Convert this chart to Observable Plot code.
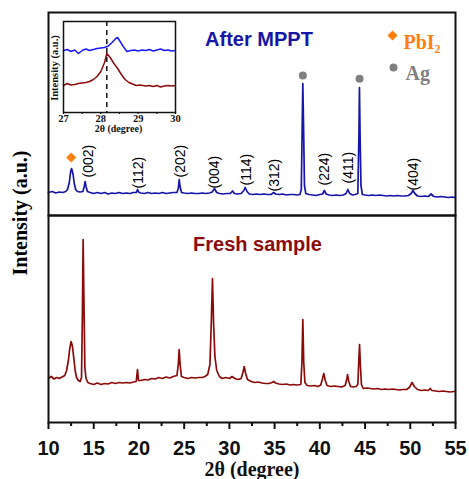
<!DOCTYPE html>
<html><head><meta charset="utf-8">
<script src="https://cdn.jsdelivr.net/npm/d3@7"></script>
<script src="https://cdn.jsdelivr.net/npm/@observablehq/plot@0.6"></script>
<style>
body{margin:0;background:#fff;}
#wrap{position:relative;width:469px;height:479px;overflow:hidden;background:#fff;}
#wrap svg{position:absolute;overflow:visible;}
.ylab{position:absolute;left:20px;top:213px;transform:translate(-50%,-50%) rotate(-90deg);font:bold 20px "Liberation Serif","Times New Roman",serif;white-space:nowrap;color:#000;}
</style></head><body><div id="wrap"><div class="ylab">Intensity (a.u.)</div></div>
<script>
// ---- data (2θ in degrees, intensity in arbitrary units) ----
const xTicks = [10, 15, 20, 25, 30, 35, 40, 45, 50, 55];
const xMinorTicks = [12.5, 17.5, 22.5, 27.5, 32.5, 37.5, 42.5, 47.5, 52.5];
const insetTicks = [27, 28, 29, 30];
const insetMinorTicks = [27.5, 28.5, 29.5];

const mppt = [[10.0,23],[10.4,24],[10.8,22.5],[11.2,23.5],[11.6,23],[11.9,24],[12.1,26],[12.3,33],[12.45,44],[12.55,47],[12.7,42],[12.85,32],[13.0,26],[13.2,24],[13.5,23.5],[13.8,24],[13.95,29],[14.05,34],[14.15,29],[14.3,24],[14.6,23],[15.0,22],[15.4,23],[15.8,22],[16.2,23],[16.6,21.5],[17.0,22.5],[17.4,22],[17.8,23],[18.2,22],[18.6,22.5],[19.0,22],[19.4,23],[19.7,23],[19.85,26],[19.95,23.5],[20.2,22.5],[20.6,22],[21.0,23],[21.4,22],[21.8,22.5],[22.2,22],[22.6,23],[23.0,22],[23.4,22.5],[23.8,23],[24.2,23],[24.35,27],[24.45,36],[24.55,29],[24.7,23],[25.0,22.5],[25.4,22],[25.8,22.5],[26.2,22],[26.6,22],[27.0,22.5],[27.4,22],[27.8,22.5],[28.1,23.5],[28.35,27],[28.6,23],[28.9,22],[29.3,21.5],[29.7,22],[30.1,22],[30.35,24.5],[30.55,22],[30.9,21.5],[31.3,22],[31.6,25],[31.75,28],[31.95,24],[32.2,21.5],[32.6,21],[33.0,21.5],[33.4,21],[33.8,21.5],[34.2,21],[34.6,21],[34.9,23],[35.1,21.5],[35.5,21],[35.9,21.5],[36.3,20.5],[36.7,21],[37.1,21],[37.5,20.5],[37.8,21],[37.95,26],[38.05,90],[38.12,132],[38.2,90],[38.3,30],[38.45,22],[38.8,21],[39.2,20.5],[39.6,20],[40.0,21],[40.3,21.5],[40.5,25],[40.7,21.5],[41.0,20.5],[41.4,20],[41.8,20.5],[42.2,20],[42.6,20.5],[42.9,22],[43.1,26],[43.3,22],[43.6,20.5],[43.9,21],[44.2,22],[44.32,80],[44.38,128],[44.45,80],[44.55,30],[44.7,21],[45.0,20.5],[45.4,20],[45.8,20.5],[46.2,20],[46.6,20.5],[47.0,20],[47.4,19.5],[47.8,20],[48.2,19.5],[48.6,20],[49.0,19.5],[49.4,19.5],[49.8,20],[50.1,22],[50.3,25],[50.5,22],[50.8,19.5],[51.2,19],[51.6,19.5],[52.0,19],[52.3,21.5],[52.6,19],[53.0,18.5],[53.4,19],[53.8,18.5],[54.2,18],[54.6,18.5],[55.0,18]];

const fresh = [[10.0,44],[10.3,46],[10.6,43.5],[10.9,45],[11.2,44],[11.5,45.5],[11.8,47],[12.0,52],[12.2,62],[12.35,74],[12.5,81],[12.65,76],[12.8,64],[12.95,52],[13.1,45],[13.3,42],[13.5,41],[13.65,45],[13.75,110],[13.83,183],[13.92,120],[14.02,55],[14.15,44],[14.35,40],[14.6,39],[15.0,38],[15.4,39.5],[15.8,38],[16.2,39],[16.6,38.5],[17.0,40],[17.4,39],[17.8,40],[18.2,39.5],[18.6,40],[19.0,39.5],[19.4,40.5],[19.7,41],[19.84,53],[19.95,42],[20.2,42],[20.6,43],[21.0,42.5],[21.4,44],[21.8,43.5],[22.2,45],[22.6,44],[23.0,45.5],[23.4,44.5],[23.8,46],[24.2,47],[24.35,58],[24.45,73],[24.55,58],[24.7,46],[25.0,45],[25.4,44],[25.8,45],[26.2,44.5],[26.6,45],[27.0,45],[27.3,46],[27.6,48],[27.85,58],[28.0,100],[28.13,144],[28.25,100],[28.4,66],[28.6,52],[28.9,46],[29.2,44],[29.6,45],[30.0,44],[30.3,46],[30.6,44],[31.0,43],[31.3,44],[31.5,50],[31.64,56],[31.8,49],[32.0,43],[32.4,41],[32.8,40],[33.2,40.5],[33.6,39.5],[34.0,39],[34.4,39],[34.7,40],[34.9,41],[35.1,39.5],[35.5,38.5],[35.9,38],[36.3,38.5],[36.7,37.5],[37.1,38],[37.5,37.5],[37.9,38],[38.02,60],[38.12,103],[38.22,60],[38.35,40],[38.6,37],[39.0,36.5],[39.4,37],[39.8,36],[40.1,37.5],[40.3,44],[40.44,49],[40.6,42],[40.8,37],[41.2,36],[41.6,36.5],[42.0,36],[42.4,35.5],[42.8,37],[43.0,44],[43.06,48],[43.2,41],[43.4,36],[43.7,35.5],[44.0,36],[44.2,38],[44.3,60],[44.39,78],[44.48,58],[44.6,38],[44.8,34],[45.2,34.5],[45.6,34],[46.0,33.5],[46.4,34],[46.8,33],[47.2,33.5],[47.6,33],[48.0,33.5],[48.4,33],[48.8,32.5],[49.2,33],[49.6,33],[49.9,35],[50.2,40],[50.45,36],[50.8,33],[51.2,32],[51.6,32.5],[52.0,32],[52.2,34],[52.4,32],[52.8,31.5],[53.2,31],[53.6,31.5],[54.0,31],[54.4,30.5],[54.8,31],[55.0,31]];

const insetMppt = [[27.0,62],[27.1,63],[27.2,61],[27.3,62.5],[27.4,59],[27.5,62],[27.6,63.5],[27.7,62],[27.8,63],[27.9,64],[28.0,64.5],[28.1,65],[28.2,66.5],[28.3,70],[28.4,74],[28.45,75],[28.5,72],[28.6,66],[28.7,61],[28.8,62],[28.9,62.5],[29.0,61.5],[29.1,62.5],[29.2,62],[29.3,63],[29.4,61.5],[29.5,62.5],[29.6,63.5],[29.7,62],[29.8,62.5],[29.9,61.5],[30.0,62]];
const insetFresh = [[27.0,27],[27.1,29],[27.2,27.5],[27.3,28],[27.4,29],[27.5,29.5],[27.6,30],[27.7,31],[27.8,33],[27.9,36],[28.0,41],[28.1,50],[28.16,59],[28.25,55],[28.35,49],[28.45,44],[28.55,38],[28.65,33],[28.75,30],[28.85,28.5],[28.95,27],[29.05,27.5],[29.2,26.5],[29.3,27],[29.4,26],[29.5,27],[29.6,25.5],[29.7,26.5],[29.8,27],[29.9,26.5],[30.0,27]];
const insetRefLine = [28.16];

const hklLabels = ["(002)", "(112)", "(202)", "(004)", "(114)", "(312)", "(224)", "(411)", "(404)"];
const hklTheta  = [14.39, 19.92, 24.6, 28.36, 31.86, 35.02, 40.52, 43.17, 50.36];
const hklLevel  = [38, 27, 38, 27, 30, 24, 30, 32, 25];

const pbi2Marker = [[12.51, 58]];
const agMarkers = [[38.12, 140], [44.39, 136.7]];

// ---- styles ----
const BLUE = "#1616a8", RED = "#8b0b0b", ORANGE = "#ff7f0e", GREY = "#808080";
const SANS = "'Liberation Sans', Arial, sans-serif";
const SERIF = "'Liberation Serif', 'Times New Roman', serif";
const wrap = document.getElementById("wrap");
const place = (svg, left, topPx) => { svg.style.left = left + "px"; svg.style.top = topPx + "px"; wrap.appendChild(svg); };

const hkl = hklLabels.map((t, i) => ({t, x: hklTheta[i], y: hklLevel[i]}));

// ---- top panel: After MPPT ----
const topPanel = Plot.plot({
  width: 469, height: 216,
  marginLeft: 48, marginRight: 14, marginTop: 12, marginBottom: 1,
  style: {background: "transparent", fontFamily: SANS},
  x: {domain: [10, 55], axis: null},
  y: {domain: [0, 203], axis: null},
  marks: [
    Plot.line(mppt, {x: d => d[0], y: d => d[1], stroke: BLUE, strokeWidth: 1.7}),
    Plot.text(hkl, {x: "x", y: "y", text: "t", rotate: -90, textAnchor: "start", fontSize: 14, fill: "#000", fontFamily: SANS}),
    Plot.dot(pbi2Marker, {x: d => d[0], y: d => d[1], symbol: "diamond2", r: 4.6, fill: ORANGE, stroke: "none"}),
    Plot.dot(agMarkers, {x: d => d[0], y: d => d[1], r: 4, fill: GREY, stroke: "none"}),
    Plot.text(["After MPPT"], {frameAnchor: "top", dx: 7, dy: 19.6, fontSize: 20, fontWeight: "bold", fill: BLUE, fontFamily: SANS}),
    Plot.dot([0], {frameAnchor: "top-right", dx: -63, dy: 23, symbol: "diamond2", r: 4.6, fill: ORANGE, stroke: "none"}),
    Plot.text(["PbI₂"], {frameAnchor: "top-right", dx: -52, dy: 22.3, textAnchor: "start", fontSize: 20, fontWeight: "bold", fill: ORANGE, fontFamily: SERIF}),
    Plot.dot([0], {frameAnchor: "top-right", dx: -62, dy: 55, r: 4, fill: GREY, stroke: "none"}),
    Plot.text(["Ag"], {frameAnchor: "top-right", dx: -50, dy: 53.6, textAnchor: "start", fontSize: 20, fontWeight: "bold", fill: GREY, fontFamily: SERIF}),
    Plot.frame({stroke: "#111", strokeWidth: 2})
  ]
});
place(topPanel, 0, 0);

// ---- bottom panel: Fresh sample ----
const bottomPanel = Plot.plot({
  width: 469, height: 265,
  marginLeft: 48, marginRight: 14, marginTop: 1, marginBottom: 57,
  style: {background: "transparent", fontFamily: SANS},
  x: {domain: [10, 55]},
  y: {domain: [0, 207], axis: null},
  marks: [
    Plot.line(fresh, {x: d => d[0], y: d => d[1], stroke: RED, strokeWidth: 1.7}),
    Plot.text(["Fresh sample"], {frameAnchor: "top", dx: 5.5, dy: 21.6, fontSize: 20, fontWeight: "bold", fill: RED, fontFamily: SANS}),
    Plot.axisX({ticks: xTicks, tickSize: 7, tickPadding: 11, strokeWidth: 2, stroke: "#111", fontSize: 20, fontWeight: "bold", fill: "#111", fontFamily: SANS, label: null}),
    Plot.axisX({ticks: xMinorTicks, tickSize: 4, strokeWidth: 2, stroke: "#111", text: null, label: null}),
    Plot.text(["2θ (degree)"], {frameAnchor: "bottom", dy: 53, fontSize: 20, fontWeight: "bold", fill: "#111", fontFamily: SERIF}),
    Plot.frame({stroke: "#111", strokeWidth: 2})
  ]
});
place(bottomPanel, 0, 214);

// ---- inset: 27–30° zoom ----
const insetPanel = Plot.plot({
  width: 145, height: 120,
  marginLeft: 23, marginRight: 10, marginTop: 6, marginBottom: 23,
  style: {background: "transparent", fontFamily: SERIF},
  x: {domain: [27, 30]},
  y: {domain: [0, 91], axis: null},
  marks: [
    Plot.ruleX(insetRefLine, {stroke: "#111", strokeWidth: 1.5, strokeDasharray: "5,4"}),
    Plot.line(insetMppt, {x: d => d[0], y: d => d[1], stroke: "#1a1aff", strokeWidth: 1.5}),
    Plot.line(insetFresh, {x: d => d[0], y: d => d[1], stroke: RED, strokeWidth: 1.5}),
    Plot.axisX({ticks: insetTicks, tickFormat: d => String(d), tickSize: 2, tickPadding: 0, strokeWidth: 1.2, stroke: "#111", fontSize: 10.5, fontWeight: "bold", fill: "#111", fontFamily: SERIF, label: null}),
    Plot.axisX({ticks: insetMinorTicks, tickSize: 2, strokeWidth: 1.2, stroke: "#111", text: null, label: null}),
    Plot.text(["2θ (degree)"], {frameAnchor: "bottom", dy: 19, dx: -1, fontSize: 10, fontWeight: "bold", fill: "#111", fontFamily: SERIF}),
    Plot.text(["Intensity (a.u.)"], {frameAnchor: "left", dx: -9, dy: 1, rotate: -90, textAnchor: "middle", fontSize: 10.5, fontWeight: "bold", fill: "#111", fontFamily: SERIF}),
    Plot.frame({stroke: "#111", strokeWidth: 1.5})
  ]
});
place(insetPanel, 40, 15);
</script></body></html>
